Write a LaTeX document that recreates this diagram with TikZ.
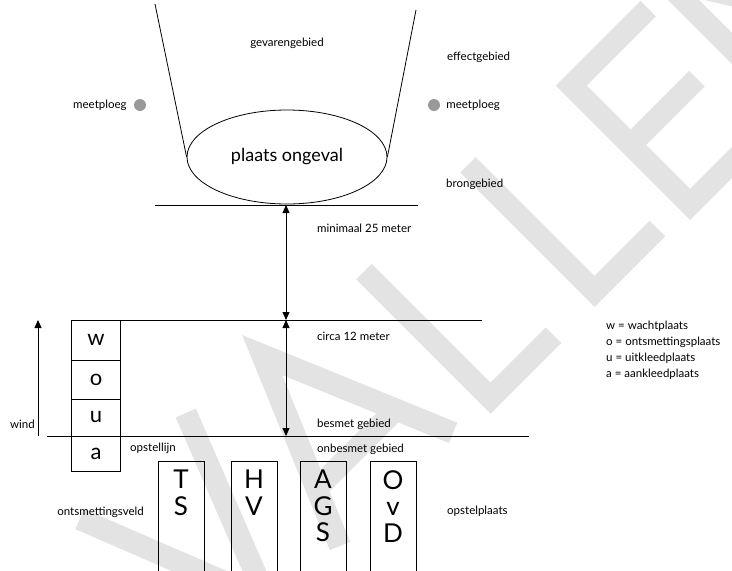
\documentclass[tikz,border=0pt]{standalone}
\usepackage{fontspec}
\setmainfont{Lato}
\usetikzlibrary{arrows.meta}
\usetikzlibrary{positioning}
\usetikzlibrary{shapes.geometric}

\tikzset{
  ln/.style={line width=0.8pt},
  lbl/.style={font=\fontsize{11.5}{13}\selectfont, inner sep=0pt},
  cell/.style={draw, line width=0.8pt, outer sep=0pt, inner sep=0pt, minimum width=49pt, font=\fontsize{22}{22}\selectfont},
  car/.style={draw, line width=0.8pt, outer sep=0pt, minimum width=46pt, minimum height=130pt, anchor=north},
  carlbl/.style={font=\fontsize{26}{26.5}\selectfont, align=center, inner sep=0pt},
  dot/.style={circle, fill=black!40, minimum size=12pt, inner sep=0pt},
  wm/.style={draw=black!11, line width=22pt, line join=miter},
}

\begin{document}
\begin{tikzpicture}[x=1pt, y=-1pt, >={Triangle[length=8pt, width=7pt]}]
  \useasboundingbox (0,0) rectangle (732,571);
  \clip (0,0) rectangle (732,571);

  \begin{scope}[shift={(690,220)}, x={(0.7071pt,0.7071pt)}, y={(-0.7071pt,0.7071pt)}]
    \draw[wm] (120,179) -- (11,179) -- (11,11) -- (120,11) (11,95) -- (105,95);
    \draw[wm] (151,0) -- (151,190) -- (269,0) -- (269,190);
    \draw[wm, shift={(-129,6)}] (11,190) -- (11,11) -- (100,11);
    \draw[wm, shift={(-278,4)}] (11,190) -- (11,11) -- (100,11);
    \draw[wm, shift={(-478,17)}] (0,0) -- (80,190) -- (160,0) (24,57) -- (136,57);
    \draw[wm, shift={(-643,30)}] (0,190) -- (75,0) -- (150,190);
  \end{scope}

  \node[draw, ln, ellipse, minimum width=200pt, minimum height=94pt, font=\fontsize{18}{20}\selectfont] (ongeval) at (287,157) {plaats ongeval};
  \coordinate (fl) at (155,4);
  \coordinate (fr) at (416,10);
  \draw[ln] (fl) -- (ongeval.west);
  \draw[ln] (fr) -- (ongeval.east);

  \coordinate (b1) at (155,205);
  \coordinate (b2) at (418,205);
  \coordinate (g1) at (121,320);
  \coordinate (g2) at (482,320);
  \coordinate (o1) at (47,436);
  \coordinate (o2) at (529,436);
  \draw[ln] (b1) -- (b2);
  \draw[ln] (g1) -- (g2);
  \draw[ln] (o1) -- (o2);

  \coordinate (m1) at (286,205);
  \coordinate (m2) at (286,320);
  \coordinate (m3) at (286,436);
  \draw[ln, <->] (m1) -- (m2);
  \draw[ln, <->] (m2) -- (m3);

  \node[lbl] (gevaar) at (287,43) {gevarengebied};
  \node[lbl, anchor=west] (effect) at (447,57) {effectgebied};
  \node[dot] (mpl) at (140,105) {};
  \node[lbl, left=7pt of mpl] (mpltxt) {meetploeg};
  \node[dot] (mpr) at (434,105) {};
  \node[lbl, right=6pt of mpr] (mprtxt) {meetploeg};
  \node[lbl, anchor=west] (bron) at (446,184) {brongebied};

  \node[lbl, anchor=west] (minimaal) at (317,228) {minimaal 25 meter};
  \node[lbl, anchor=west] (circa) at (317,336) {circa 12 meter};
  \node[lbl, anchor=west] (besmet) at (317,424) {besmet gebied};
  \node[lbl, anchor=west] (onbesmet) at (317,449) {onbesmet gebied};

  \node[cell, minimum height=40pt] (w) at (96,340) {w};
  \node[cell, minimum height=39pt, below=0pt of w] (o) {o};
  \node[cell, minimum height=37pt, below=0pt of o] (u) {u};
  \node[cell, minimum height=35pt, below=0pt of u] (a) {a};

  \coordinate (wind0) at (38,436);
  \coordinate (wind1) at (38,320);
  \draw[ln, ->] (wind0) -- (wind1);
  \node[lbl, anchor=east] (windtxt) at (35,424) {wind};
  \node[lbl, anchor=west] (opstellijn) at (130,448) {opstellijn};

  \node[car] (ts) at (181,461) {};
  \node[car, right=27pt of ts] (hv) {};
  \node[car, right=23pt of hv] (ags) {};
  \node[car, right=24pt of ags] (ovd) {};
  \node[carlbl, below=9pt of ts.north] {T\\S};
  \node[carlbl, below=9pt of hv.north] {H\\V};
  \node[carlbl, below=9pt of ags.north] {A\\G\\S};
  \node[carlbl, below=9pt of ovd.north] {O\\v\\D};

  \node[lbl, anchor=east] (veld) at (144,512) {ontsmettingsveld};
  \node[lbl, anchor=west] (opstel) at (447,511) {opstelplaats};

  \node[lbl, anchor=north west, align=left, font=\fontsize{11.5}{16}\selectfont] (legenda) at (606,321)
    {w = wachtplaats\\o = ontsmettingsplaats\\u = uitkleedplaats\\a = aankleedplaats};
\end{tikzpicture}
\end{document}
